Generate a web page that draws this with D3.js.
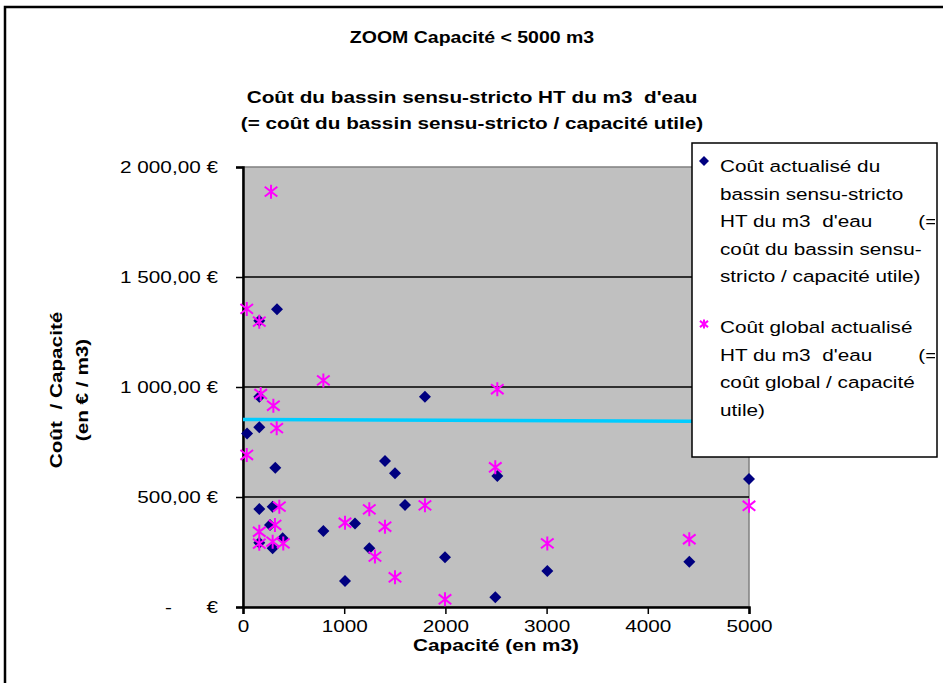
<!DOCTYPE html>
<html>
<head>
<meta charset="utf-8">
<script src="https://cdn.jsdelivr.net/npm/d3@7"></script>
<style>
    body { margin: 0; background: #fff; }
    text { font-family: "Liberation Sans", Arial, sans-serif; }
</style>
</head>
<body>
<div id="chart"></div>
<script>
'use strict';

// capacité (m3) / coût par m3 (€)
let bassinCapacity = [40, 161, 161, 161, 161, 161, 293, 267, 293, 392, 336, 319, 794,
    1107, 1008, 1248, 1403, 1502, 1601, 1798, 1996, 2493, 2513, 3007, 4410, 5000];
let bassinCost = [789, 1301, 817, 956, 445, 292, 456, 373, 267, 312, 1353, 633, 345,
    380, 118, 267, 664, 608, 464, 956, 226, 44, 595, 164, 206, 582];

let globalCapacity = [277, 37, 161, 794, 175, 300, 333, 37, 359, 316, 161, 1008, 1248,
    1403, 1798, 161, 293, 398, 1304, 1502, 2513, 2493, 1996, 3007, 4410, 5000];
let globalCost = [1888, 1355, 1297, 1030, 968, 915, 813, 691, 456, 373, 342, 383, 444,
    365, 462, 288, 297, 289, 229, 135, 990, 635, 35, 289, 308, 460];

// courbe de tendance (début / fin)
let trendX = [0, 5000];
let trendY = [852, 843];

let xTicks = [0, 1000, 2000, 3000, 4000, 5000];
let yTicks = [0, 500, 1000, 1500, 2000];
let yTickLabels = ['-      €', '500,00 €', '1 000,00 €', '1 500,00 €', '2 000,00 €'];

let legendLines1 = ['Coût actualisé du', 'bassin sensu-stricto', 'HT du m3  d\'eau        (=',
    'coût du bassin sensu-', 'stricto / capacité utile)'];
let legendLines2 = ['Coût global actualisé', 'HT du m3  d\'eau        (=',
    'coût global / capacité', 'utile)'];

let width = 943, height = 683;
let plot = {left: 243, right: 749, top: 167, bottom: 607};
let S = 1.22; // the original text is rendered wider than Arial

let svg = d3.select('#chart').append('svg')
    .attr('width', width)
    .attr('height', height);

function placeText(sel, x, y) {
    return sel.attr('x', 0).attr('y', 0)
        .attr('transform', 'translate(' + x + ',' + y + ') scale(' + S + ',1)');
}

svg.append('rect')
    .attr('x', 5).attr('y', 7)
    .attr('width', 980).attr('height', 720)
    .style('fill', '#fff')
    .style('stroke', '#000')
    .style('stroke-width', 2.5);

let x = d3.scaleLinear().domain([0, 5000]).range([plot.left, plot.right]);
let y = d3.scaleLinear().domain([0, 2000]).range([plot.bottom, plot.top]);

// titles
placeText(svg.append('text').text('ZOOM Capacité < 5000 m3'), 472, 43)
    .style('font-size', '16px').style('font-weight', 'bold')
    .style('text-anchor', 'middle');

placeText(svg.append('text').text('Coût du bassin sensu-stricto HT du m3  d\'eau'), 472, 103)
    .attr('xml:space', 'preserve')
    .style('white-space', 'pre')
    .style('font-size', '17px').style('font-weight', 'bold')
    .style('text-anchor', 'middle');

placeText(svg.append('text').text('(= coût du bassin sensu-stricto / capacité utile)'), 472, 129)
    .style('font-size', '17px').style('font-weight', 'bold')
    .style('text-anchor', 'middle');

// plot area
svg.append('rect')
    .attr('x', plot.left).attr('y', plot.top)
    .attr('width', plot.right - plot.left).attr('height', plot.bottom - plot.top)
    .style('fill', '#c0c0c0')
    .style('stroke', '#808080')
    .style('stroke-width', 1.5);

svg.append('g').selectAll('line')
    .data(yTicks.filter(function (d) { return d > 0 && d < 2000; }))
    .enter().append('line')
    .attr('x1', plot.left).attr('x2', plot.right)
    .attr('y1', function (d) { return y(d); })
    .attr('y2', function (d) { return y(d); })
    .style('stroke', '#000')
    .style('stroke-width', 1.5);

// y axis
let yAxis = d3.axisLeft(y)
    .tickValues(yTicks)
    .tickSize(7)
    .tickFormat(function (d, i) { return yTickLabels[i]; });

let yAxisG = svg.append('g')
    .attr('transform', 'translate(' + plot.left + ',0)')
    .call(yAxis);
yAxisG.select('.domain').style('stroke-width', 2.5);
yAxisG.selectAll('.tick line').style('stroke-width', 1.5);
yAxisG.selectAll('text')
    .attr('x', -25 / S)
    .attr('transform', 'scale(' + S + ',1)')
    .attr('xml:space', 'preserve')
    .style('white-space', 'pre')
    .style('font-size', '17px')
    .style('font-family', '"Liberation Sans", Arial, sans-serif')
    .style('fill', '#000');

// x axis
let xAxis = d3.axisBottom(x)
    .tickValues(xTicks)
    .tickSize(7)
    .tickPadding(6)
    .tickFormat(d3.format('d'));

let xAxisG = svg.append('g')
    .attr('transform', 'translate(0,' + plot.bottom + ')')
    .call(xAxis);
xAxisG.select('.domain').style('stroke-width', 2.5);
xAxisG.selectAll('.tick line').style('stroke-width', 1.5);
xAxisG.selectAll('text')
    .attr('transform', 'scale(' + S + ',1)')
    .style('font-size', '17px')
    .style('font-family', '"Liberation Sans", Arial, sans-serif')
    .style('fill', '#000');

// axis labels
placeText(svg.append('text').text('Capacité (en m3)'), 496, 651)
    .style('font-size', '17px').style('font-weight', 'bold')
    .style('text-anchor', 'middle');

let yLabel = svg.append('text')
    .attr('transform', 'translate(62,390) rotate(-90) scale(' + S + ',1)')
    .style('font-size', '17px').style('font-weight', 'bold')
    .style('text-anchor', 'middle');
yLabel.append('tspan').attr('x', 0).attr('dy', 0)
    .attr('xml:space', 'preserve').style('white-space', 'pre')
    .text('Coût  / Capacité');
yLabel.append('tspan').attr('x', 0).attr('dy', 26).text('(en € / m3)');

// trend line
let trendData = trendX.map(function (d, i) { return [d, trendY[i]]; });
svg.append('path')
    .datum(trendData)
    .attr('d', d3.line()
        .x(function (d) { return x(d[0]); })
        .y(function (d) { return y(d[1]); }))
    .style('stroke', '#00ccff')
    .style('stroke-width', 3.5)
    .style('fill', 'none');

function starPath(s) {
    let a = s * 0.9, b = s * 0.7;
    return 'M0,' + (-s) + 'L0,' + s +
        'M' + (-a) + ',' + (-b) + 'L' + a + ',' + b +
        'M' + (-a) + ',' + b + 'L' + a + ',' + (-b);
}

function diamondPath(s) {
    return 'M0,' + (-s) + 'L' + s + ',0L0,' + s + 'L' + (-s) + ',0Z';
}

// series 1: diamonds
let bassinData = bassinCapacity.map(function (d, i) { return {x: d, y: bassinCost[i]}; });
svg.append('g').selectAll('path')
    .data(bassinData)
    .enter().append('path')
    .attr('d', diamondPath(6))
    .attr('transform', function (d) { return 'translate(' + x(d.x) + ',' + y(d.y) + ')'; })
    .style('fill', '#000080');

// series 2: stars
let globalData = globalCapacity.map(function (d, i) { return {x: d, y: globalCost[i]}; });
svg.append('g').selectAll('path')
    .data(globalData)
    .enter().append('path')
    .attr('d', starPath(7))
    .attr('transform', function (d) { return 'translate(' + x(d.x) + ',' + y(d.y) + ')'; })
    .style('stroke', '#ff00ff')
    .style('stroke-width', 2)
    .style('fill', 'none');

// legend
let legend = {x: 692, y: 143, w: 245, h: 314};

svg.append('clipPath').attr('id', 'legend-clip')
    .append('rect')
    .attr('x', legend.x).attr('y', legend.y)
    .attr('width', legend.w - 2).attr('height', legend.h);

svg.append('rect')
    .attr('x', legend.x).attr('y', legend.y)
    .attr('width', legend.w).attr('height', legend.h)
    .style('fill', '#fff')
    .style('stroke', '#000')
    .style('stroke-width', 1.5);

let legendG = svg.append('g').attr('clip-path', 'url(#legend-clip)');
let lineHeight = 27.5;

legendG.append('path')
    .attr('d', diamondPath(5))
    .attr('transform', 'translate(704,161)')
    .style('fill', '#000080');

legendG.selectAll('.leg1').data(legendLines1)
    .enter().append('text')
    .attr('class', 'leg1')
    .attr('x', 0).attr('y', 0)
    .attr('transform', function (d, i) {
        return 'translate(720,' + (172 + i * lineHeight) + ') scale(' + S + ',1)';
    })
    .attr('xml:space', 'preserve')
    .style('white-space', 'pre')
    .style('font-size', '17px')
    .text(function (d) { return d; });

legendG.append('path')
    .attr('d', starPath(4.5))
    .attr('transform', 'translate(704,324)')
    .style('stroke', '#ff00ff')
    .style('stroke-width', 2)
    .style('fill', 'none');

legendG.selectAll('.leg2').data(legendLines2)
    .enter().append('text')
    .attr('class', 'leg2')
    .attr('x', 0).attr('y', 0)
    .attr('transform', function (d, i) {
        return 'translate(720,' + (333 + i * lineHeight) + ') scale(' + S + ',1)';
    })
    .attr('xml:space', 'preserve')
    .style('white-space', 'pre')
    .style('font-size', '17px')
    .text(function (d) { return d; });
</script>
</body>
</html>
